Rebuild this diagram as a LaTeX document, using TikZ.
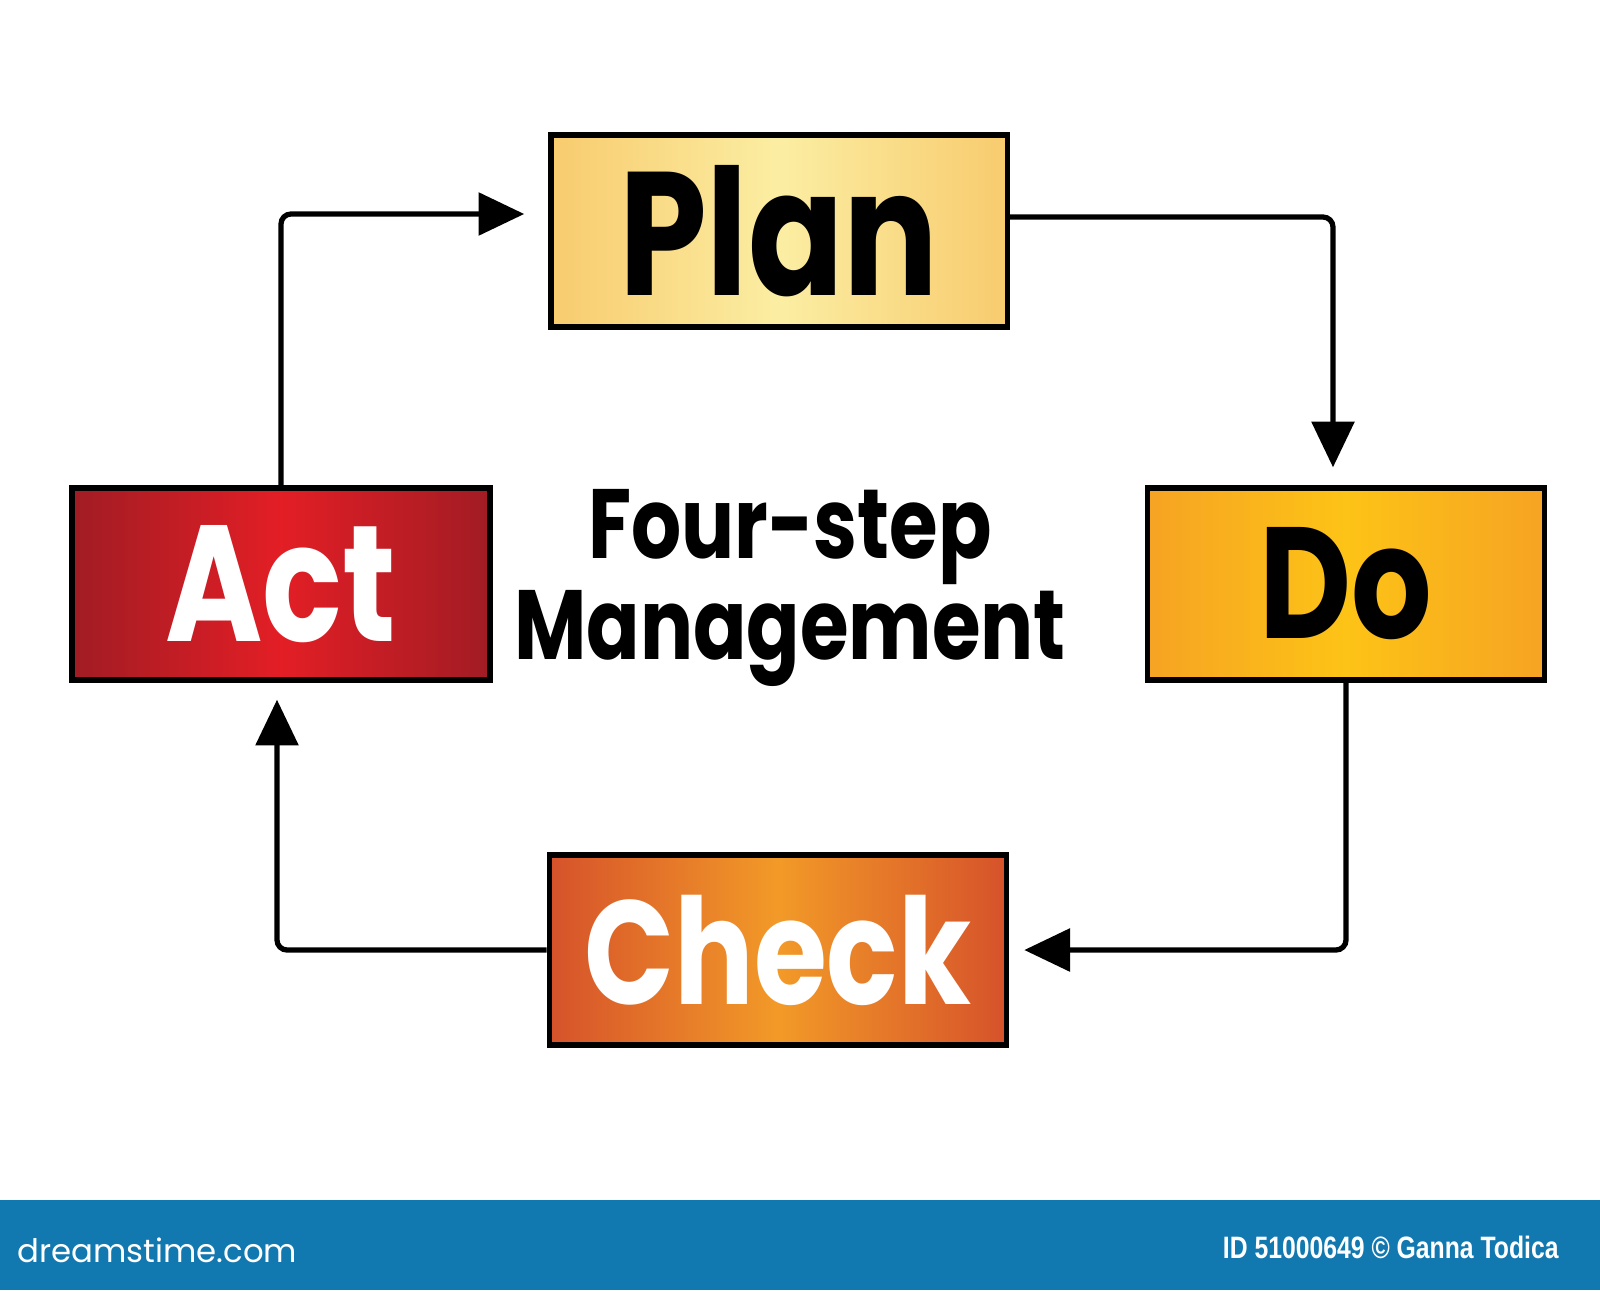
\documentclass[tikz,border=0pt]{standalone}
\usepackage{fontspec}
\setmainfont{Poppins}
\newfontfamily\handfont[FakeStretch=0.8]{Poppins}
\newfontfamily\barfont[FakeStretch=0.8]{Liberation Sans}
\usetikzlibrary{arrows.meta}

\definecolor{planedge}{HTML}{F8CB6E}
\definecolor{planmid}{HTML}{FBEEA3}
\definecolor{doedge}{HTML}{F6A323}
\definecolor{domid}{HTML}{FDC316}
\definecolor{actedge}{HTML}{A11C24}
\definecolor{actmid}{HTML}{E31E25}
\definecolor{checkedge}{HTML}{D6522A}
\definecolor{checkmid}{HTML}{F29A28}
\definecolor{barblue}{HTML}{1278B0}

\tikzset{
  stepbox/.style={draw=black, line width=1.5pt, inner sep=0pt,
    minimum height=1.92cm, font=\handfont\bfseries},
  flow/.style={draw=black, line width=1.5pt, rounded corners=0.1cm,
    -{Triangle[length=13pt,width=12pt]}}
}

\begin{document}
\begin{tikzpicture}[x=0.01cm,y=-0.01cm]
            \useasboundingbox (0,0) rectangle (1600,1290);
            \begin{scope}[every node/.style={stepbox}]

                \node[minimum width=4.56cm, left color=planedge, right color=planedge, middle color=planmid,
                  font=\handfont\bfseries\fontsize{50}{60}\selectfont] (plan) at (779,231) {Plan};
                \node[minimum width=3.97cm, left color=doedge, right color=doedge, middle color=domid,
                  font=\handfont\bfseries\fontsize{45}{60}\selectfont] (do) at (1346,584) {Do};
                \node[minimum width=4.18cm, left color=actedge, right color=actedge, middle color=actmid,
                  text=white, font=\handfont\bfseries\fontsize{47}{60}\selectfont] (act) at (281,584) {Act};
                \node[minimum width=4.57cm, minimum height=1.90cm, left color=checkedge, right color=checkedge, middle color=checkmid,
                  text=white, font=\handfont\bfseries\fontsize{42}{50}\selectfont] (check) at (778,950) {Check};
            \end{scope}

            \node[align=center, font=\handfont\bfseries\fontsize{28}{28.5}\selectfont] (title) at (790,588) {Four-step\\Management};

            \draw[flow, shorten >=0.18cm] ([yshift=0.14cm]plan.east) -| ([xshift=-0.13cm]do.north);
            \draw[flow, shorten >=0.15cm] (do.south) |- (check.east);
            \draw[flow, shorten >=0.17cm] (check.west) -| ([xshift=-0.04cm]act.south);
            \draw[flow, shorten >=0.24cm] (act.north) |- ([yshift=0.17cm]plan.west);

            \fill[barblue] (0,1200) rectangle (1600,1290);
            \node[anchor=west, text=white, font=\fontsize{9.2}{12}\selectfont] (site) at (5,1250) {dreamstime.com};
            \node[anchor=east, text=white, font=\barfont\bfseries\fontsize{8.8}{10}\selectfont] (credit) at (1571,1247) {ID 51000649 © Ganna Todica};
        \end{tikzpicture}
\end{document}
